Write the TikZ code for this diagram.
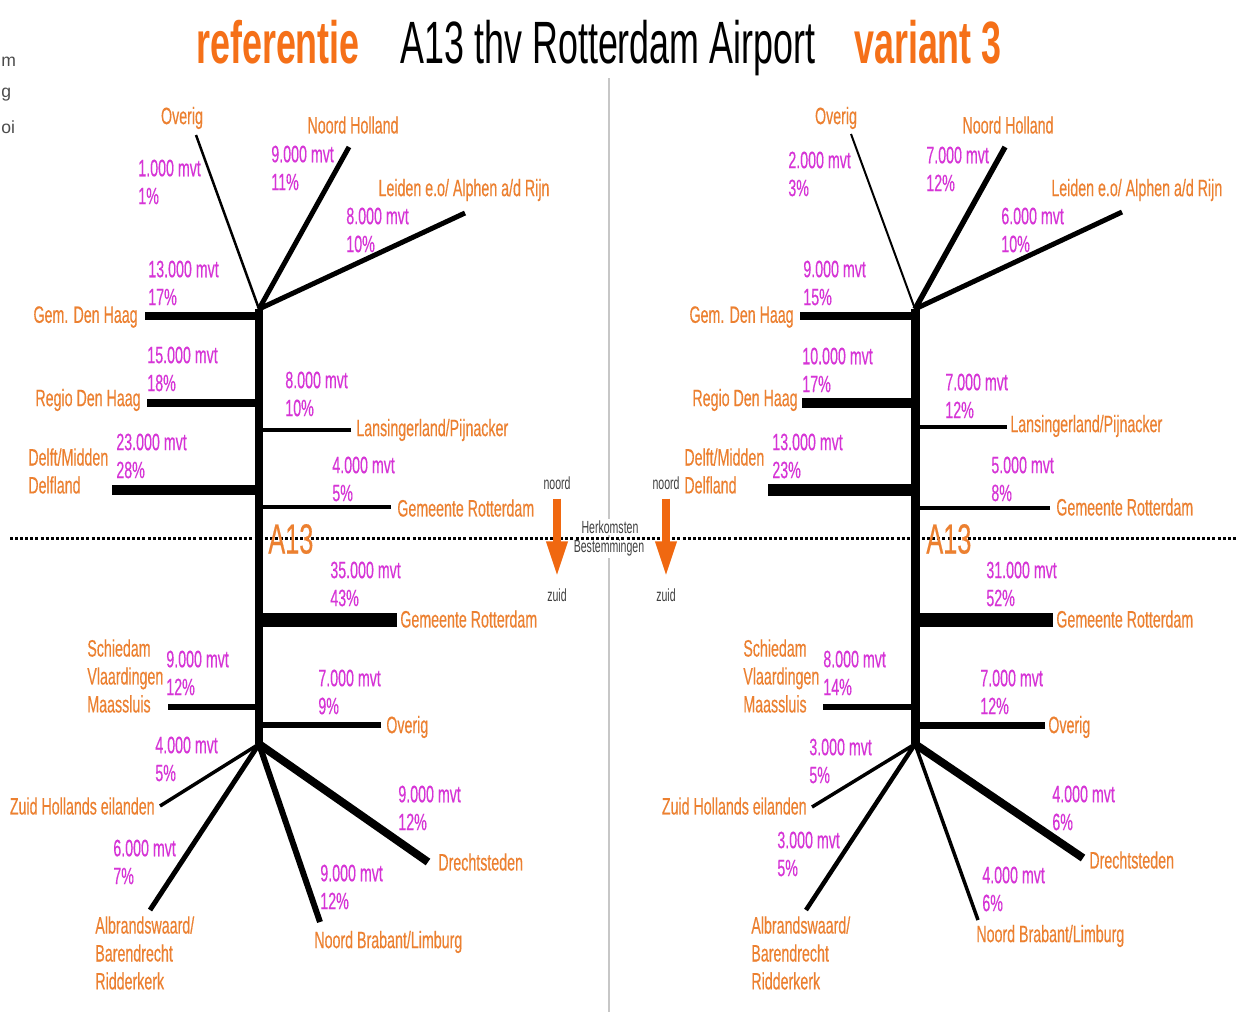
\documentclass[tikz,border=0pt]{standalone}
\usepackage{fontspec}
\setmainfont{Liberation Sans}[FakeStretch=0.6]
\newfontfamily\plainfont{Liberation Sans}
\newfontfamily\labelfont{Liberation Sans}[FakeStretch=0.6, FakeBold=0.3]
\usepackage{tikz}
\usetikzlibrary{arrows.meta}
\definecolor{placeor}{RGB}{236,128,48}
\definecolor{countmg}{RGB}{214,52,214}
\definecolor{titleor}{RGB}{245,112,24}
\definecolor{arrowor}{RGB}{240,104,16}

\begin{document}
\begin{tikzpicture}[x=0.02cm, y=-0.02cm,
  place/.style={text=placeor, font=\labelfont\fontsize{13.5}{15.9}\selectfont, inner sep=0, align=left},
  count/.style={place, text=countmg},
  small/.style={text=black!75, font=\fontsize{10}{11}\selectfont, inner sep=1pt},
  road/.style={line width=#1*0.567pt},
  dirarrow/.style={arrowor, line width=4pt, -{Triangle[width=11.3pt, length=20pt]}},
  big/.style={font=\fontsize{34}{40}\selectfont, inner sep=0}]
\useasboundingbox (0,0) rectangle (1239,1015);
\fill[white] (0,0) rectangle (1239,1015);

\node[text=black!70, font=\plainfont\fontsize{10}{12}\selectfont, anchor=west, inner sep=0] (cut1) at (1,62) {m};
\node[text=black!70, font=\plainfont\fontsize{10}{12}\selectfont, anchor=west, inner sep=0] (cut2) at (1,95) {g};
\node[text=black!70, font=\plainfont\fontsize{10}{12}\selectfont, anchor=west, inner sep=0] (cut3) at (1,127) {oi};

\node[big, anchor=base, text=titleor, font=\bfseries\fontsize{34}{40}\selectfont] (ref) at (278,63) {referentie};
\node[big, anchor=base] (title) at (608,63) {A13 thv Rotterdam Airport};
\node[big, anchor=base, text=titleor, font=\bfseries\fontsize{34}{40}\selectfont] (var) at (928,63) {variant 3};

\coordinate (sepT) at (609,78);
\coordinate (sepB) at (609,1012);
\draw[black!22, line width=0.8pt] (sepT) -- (sepB);

\node[small, fill=white] (herk) at (610,527) {Herkomsten};
\node[small, fill=white] (best) at (609,548) {Bestemmingen};

\coordinate (dotL) at (10,538);
\coordinate (dotR) at (1236,538);
\draw[line width=1.7pt, dash pattern=on 1.7pt off 1.2pt] (dotL) -- (dotR);

\node[small] (nL) at (557,483) {noord};
\node[small] (zL) at (557,595) {zuid};
\node[small] (nR) at (666,483) {noord};
\node[small] (zR) at (666,595) {zuid};
\draw[dirarrow] ([yshift=-0.14cm]nL.south) -- ([yshift=0.2cm]zL.north);
\draw[dirarrow] ([yshift=-0.14cm]nR.south) -- ([yshift=0.2cm]zR.north);

\coordinate (Ltop) at (259,309);
\coordinate (Lbot) at (259,744);
\coordinate (Lov) at (196,135);
\coordinate (Lnh) at (349,147);
\coordinate (Lld) at (465,213);
\coordinate (Lgd) at (145,316);
\coordinate (Lrd) at (147,403);
\coordinate (Lls) at (351,430);
\coordinate (Ldm) at (112,490);
\coordinate (Lrn) at (391,507);
\coordinate (Lrs) at (397,620);
\coordinate (Lsv) at (168,707);
\coordinate (Lo2) at (381,725);
\coordinate (Lzh) at (160,806);
\coordinate (Lab) at (150,910);
\coordinate (Lnb) at (320,922);
\coordinate (Ldr) at (428,862);

\draw[road=9] (Ltop) -- (Lbot);
\draw[road=2.5] (Ltop) -- (Lov);
\draw[road=5] (Ltop) -- (Lnh);
\draw[road=5] (Ltop) -- (Lld);
\draw[road=8] (Lgd) -- (Lgd -| Ltop);
\draw[road=8] (Lrd) -- (Lrd -| Ltop);
\draw[road=4] (Lls) -- (Lls -| Ltop);
\draw[road=11] (Ldm) -- (Ldm -| Ltop);
\draw[road=3.5] (Lrn) -- (Lrn -| Ltop);
\draw[road=14] (Lrs) -- (Lrs -| Ltop);
\draw[road=6] (Lsv) -- (Lsv -| Ltop);
\draw[road=6] (Lo2) -- (Lo2 -| Ltop);
\draw[road=3.5] (Lbot) -- (Lzh);
\draw[road=5] (Lbot) -- (Lab);
\draw[road=6] (Lbot) -- (Lnb);
\draw[road=8] (Lbot) -- (Ldr);

\node[place] (LovT) at (182,118) {Overig};
\node[place] (LnhT) at (353,125) {Noord Holland};
\node[place] (LldT) at (464,190) {Leiden e.o/ Alphen a/d Rijn};
\node[place, anchor=east] (LgdT) at (138,317) {Gem. Den Haag};
\node[place, anchor=east] (LrdT) at (141,400) {Regio Den Haag};
\node[place, anchor=west] (LdmT) at (28,471) {Delft/Midden\\Delfland};
\node[place, anchor=west] (LlsT) at (356,430) {Lansingerland/Pijnacker};
\node[place, anchor=west] (LrnT) at (397,508) {Gemeente Rotterdam};
\node[place, anchor=west, font=\labelfont\fontsize{24}{28}\selectfont] (La13) at (268,539) {A13};
\node[place, anchor=west] (LrsT) at (400,619) {Gemeente Rotterdam};
\node[place, anchor=west] (LsvT) at (87,676) {Schiedam\\Vlaardingen\\Maassluis};
\node[place, anchor=west] (Lo2T) at (386,727) {Overig};
\node[place, anchor=east] (LzhT) at (155,806) {Zuid Hollands eilanden};
\node[place, anchor=west] (LabT) at (95,953) {Albrandswaard/\\Barendrecht\\Ridderkerk};
\node[place, anchor=west] (LnbT) at (314,942) {Noord Brabant/Limburg};
\node[place, anchor=west] (LdrT) at (438,862) {Drechtsteden};

\node[count, anchor=west] (LovN) at (138,182) {1.000 mvt\\1\%};
\node[count, anchor=west] (LnhN) at (271,168) {9.000 mvt\\11\%};
\node[count, anchor=west] (LldN) at (346,230) {8.000 mvt\\10\%};
\node[count, anchor=west] (LgdN) at (148,283) {13.000 mvt\\17\%};
\node[count, anchor=west] (LrdN) at (147,369) {15.000 mvt\\18\%};
\node[count, anchor=west] (LlsN) at (285,394) {8.000 mvt\\10\%};
\node[count, anchor=west] (LdmN) at (116,456) {23.000 mvt\\28\%};
\node[count, anchor=west] (LrnN) at (332,479) {4.000 mvt\\5\%};
\node[count, anchor=west] (LrsN) at (330,584) {35.000 mvt\\43\%};
\node[count, anchor=west] (LsvN) at (166,673) {9.000 mvt\\12\%};
\node[count, anchor=west] (Lo2N) at (318,692) {7.000 mvt\\9\%};
\node[count, anchor=west] (LzhN) at (155,759) {4.000 mvt\\5\%};
\node[count, anchor=west] (LabN) at (113,862) {6.000 mvt\\7\%};
\node[count, anchor=west] (LdrN) at (398,808) {9.000 mvt\\12\%};
\node[count, anchor=west] (LnbN) at (320,887) {9.000 mvt\\12\%};

\coordinate (Rtop) at (915,309);
\coordinate (Rbot) at (915,744);
\coordinate (Rov) at (851,134);
\coordinate (Rnh) at (1005,147);
\coordinate (Rld) at (1122,212);
\coordinate (Rgd) at (800,316);
\coordinate (Rrd) at (802,403);
\coordinate (Rls) at (1007,427);
\coordinate (Rdm) at (768,490);
\coordinate (Rrn) at (1050,508);
\coordinate (Rrs) at (1053,620);
\coordinate (Rsv) at (823,707);
\coordinate (Ro2) at (1045,725);
\coordinate (Rzh) at (812,807);
\coordinate (Rab) at (806,910);
\coordinate (Rnb) at (978,920);
\coordinate (Rdr) at (1083,858);

\draw[road=9] (Rtop) -- (Rbot);
\draw[road=2] (Rtop) -- (Rov);
\draw[road=5.5] (Rtop) -- (Rnh);
\draw[road=5] (Rtop) -- (Rld);
\draw[road=8] (Rgd) -- (Rgd -| Rtop);
\draw[road=10] (Rrd) -- (Rrd -| Rtop);
\draw[road=4.5] (Rls) -- (Rls -| Rtop);
\draw[road=12] (Rdm) -- (Rdm -| Rtop);
\draw[road=3.5] (Rrn) -- (Rrn -| Rtop);
\draw[road=14] (Rrs) -- (Rrs -| Rtop);
\draw[road=6] (Rsv) -- (Rsv -| Rtop);
\draw[road=7] (Ro2) -- (Ro2 -| Rtop);
\draw[road=3.5] (Rbot) -- (Rzh);
\draw[road=4.5] (Rbot) -- (Rab);
\draw[road=3.5] (Rbot) -- (Rnb);
\draw[road=8] (Rbot) -- (Rdr);

\node[place] (RovT) at (836,118) {Overig};
\node[place] (RnhT) at (1008,125) {Noord Holland};
\node[place, anchor=west] (RldT) at (1051,190) {Leiden e.o/ Alphen a/d Rijn};
\node[place, anchor=east] (RgdT) at (794,317) {Gem. Den Haag};
\node[place, anchor=east] (RrdT) at (798,400) {Regio Den Haag};
\node[place, anchor=west] (RdmT) at (684,471) {Delft/Midden\\Delfland};
\node[place, anchor=west] (RlsT) at (1010,426) {Lansingerland/Pijnacker};
\node[place, anchor=west] (RrnT) at (1056,507) {Gemeente Rotterdam};
\node[place, anchor=west, font=\labelfont\fontsize{24}{28}\selectfont] (Ra13) at (926,539) {A13};
\node[place, anchor=west] (RrsT) at (1056,619) {Gemeente Rotterdam};
\node[place, anchor=west] (RsvT) at (743,676) {Schiedam\\Vlaardingen\\Maassluis};
\node[place, anchor=west] (Ro2T) at (1048,727) {Overig};
\node[place, anchor=east] (RzhT) at (807,806) {Zuid Hollands eilanden};
\node[place, anchor=west] (RabT) at (751,953) {Albrandswaard/\\Barendrecht\\Ridderkerk};
\node[place, anchor=west] (RnbT) at (976,936) {Noord Brabant/Limburg};
\node[place, anchor=west] (RdrT) at (1089,860) {Drechtsteden};

\node[count, anchor=west] (RovN) at (788,174) {2.000 mvt\\3\%};
\node[count, anchor=west] (RnhN) at (926,169) {7.000 mvt\\12\%};
\node[count, anchor=west] (RldN) at (1001,230) {6.000 mvt\\10\%};
\node[count, anchor=west] (RgdN) at (803,283) {9.000 mvt\\15\%};
\node[count, anchor=west] (RrdN) at (802,370) {10.000 mvt\\17\%};
\node[count, anchor=west] (RlsN) at (945,396) {7.000 mvt\\12\%};
\node[count, anchor=west] (RdmN) at (772,456) {13.000 mvt\\23\%};
\node[count, anchor=west] (RrnN) at (991,479) {5.000 mvt\\8\%};
\node[count, anchor=west] (RrsN) at (986,584) {31.000 mvt\\52\%};
\node[count, anchor=west] (RsvN) at (823,673) {8.000 mvt\\14\%};
\node[count, anchor=west] (Ro2N) at (980,692) {7.000 mvt\\12\%};
\node[count, anchor=west] (RzhN) at (809,761) {3.000 mvt\\5\%};
\node[count, anchor=west] (RabN) at (777,854) {3.000 mvt\\5\%};
\node[count, anchor=west] (RdrN) at (1052,808) {4.000 mvt\\6\%};
\node[count, anchor=west] (RnbN) at (982,889) {4.000 mvt\\6\%};
\end{tikzpicture}
\end{document}
